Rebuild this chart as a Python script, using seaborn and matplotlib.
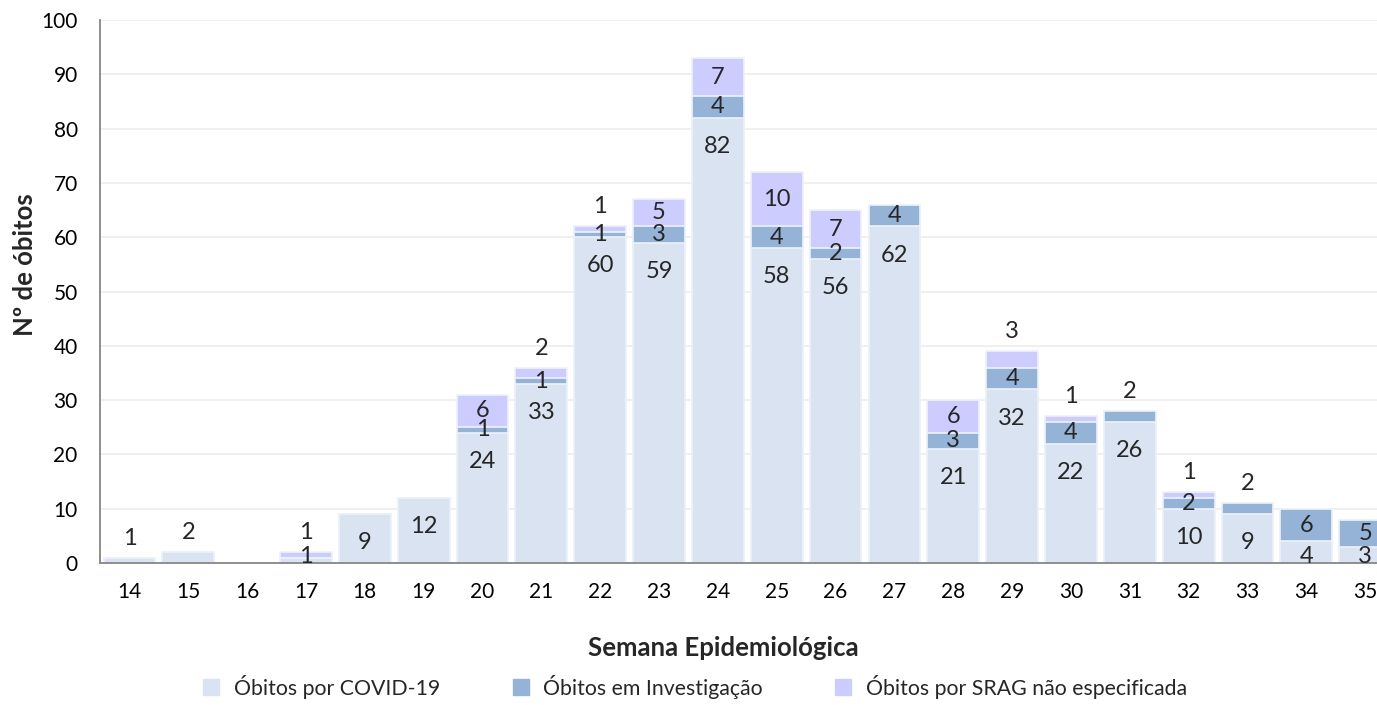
import numpy as np
import pandas as pd
import matplotlib
matplotlib.use("Agg")
import matplotlib.pyplot as plt
from matplotlib.lines import Line2D
import seaborn as sns

# Dados por semana epidemiológica
semanas = ["14", "15", "16", "17", "18", "19", "20", "21", "22", "23", "24",
           "25", "26", "27", "28", "29", "30", "31", "32", "33", "34", "35"]
covid = [1, 2, 0, 1, 9, 12, 24, 33, 60, 59, 82, 58, 56, 62, 21, 32, 22, 26, 10, 9, 4, 3]
investigacao = [0, 0, 0, 0, 0, 0, 1, 1, 1, 3, 4, 4, 2, 4, 3, 4, 4, 2, 2, 2, 6, 5]
srag = [0, 0, 0, 1, 0, 0, 6, 2, 1, 5, 7, 10, 7, 0, 6, 3, 1, 0, 1, 0, 0, 0]

nomes = ["Óbitos por COVID-19", "Óbitos em Investigação", "Óbitos por SRAG não especificada"]
cores = ["#DAE3F1", "#95B3D7", "#CCCCFF"]

df = pd.DataFrame({"semana": semanas, "covid": covid, "inv": investigacao, "srag": srag})
df["c1"] = df["covid"]
df["c2"] = df["covid"] + df["inv"]
df["c3"] = df["c2"] + df["srag"]

sns.set_style("white")
plt.rcParams["font.family"] = ["Lato", "DejaVu Sans"]

fig = plt.figure(figsize=(13.77, 7.05), dpi=100)
ax = fig.add_axes([0.0726, 0.2014, 0.9274, 0.7702])

# Empilhamento: total primeiro, depois as partes de baixo por cima
for col, cor in zip(["c3", "c2", "c1"], cores[::-1]):
    sns.barplot(data=df, x="semana", y=col, color=cor, width=0.88, saturation=1,
                edgecolor="#EDF2F9", linewidth=1.2, ax=ax, zorder=2)

ax.set_ylim(0, 100)
ax.set_xlim(-0.5, 21.2)
ax.set_yticks(range(0, 101, 10))
ax.yaxis.grid(True, color="#F0F0F0", linewidth=1.4, zorder=0)
ax.set_axisbelow(True)
for s in ["top", "right"]:
    ax.spines[s].set_visible(False)
ax.spines["left"].set_color("#868686")
ax.spines["bottom"].set_color("#868686")
ax.spines["left"].set_linewidth(1.3)
ax.spines["bottom"].set_linewidth(1.3)
ax.tick_params(axis="both", length=0, labelsize=15, colors="black")
ax.tick_params(axis="y", pad=16)
ax.tick_params(axis="x", pad=14)
ax.set_xlabel("Semana Epidemiológica", fontsize=18.5, fontweight="bold")
ax.set_ylabel("Nº de óbitos", fontsize=18.5, fontweight="bold")
ax.xaxis.set_label_coords(0.5 * (868 + 578) / 1277 - 100 / 1277, -0.157)
ax.yaxis.set_label_coords(-0.059, 0.55)
ax.xaxis.label.set_va("center")
ax.yaxis.label.set_va("center")

# Rótulos de dados
fs = 17
for i in range(len(semanas)):
    partes = [(covid[i], 0), (investigacao[i], covid[i]), (srag[i], covid[i] + investigacao[i])]
    topo_idx = max([k for k, (v, b) in enumerate(partes) if v > 0], default=None)
    for k, (v, base) in enumerate(partes):
        if v == 0:
            continue
        top = base + v
        if k == topo_idx and v <= 3:
            ax.annotate(str(v), (i, top), xytext=(0, 14), textcoords="offset points",
                        ha="center", va="center", fontsize=fs)
        elif k == 0:
            y = max(top - 5.3, 1.2)
            ax.text(i, y, str(v), ha="center", va="center", fontsize=fs)
        else:
            ax.text(i, base + v / 2, str(v), ha="center", va="center", fontsize=fs)

handles = [Line2D([0], [0], marker="s", linestyle="none", markersize=11,
                  markerfacecolor=c, markeredgecolor=c) for c in cores]
fig.legend(handles, nomes, loc="lower center", bbox_to_anchor=(0.5, -0.018), ncol=3,
           frameon=False, fontsize=15.3, handletextpad=0.05, columnspacing=2.8)

fig.savefig("out.png", dpi=100)
